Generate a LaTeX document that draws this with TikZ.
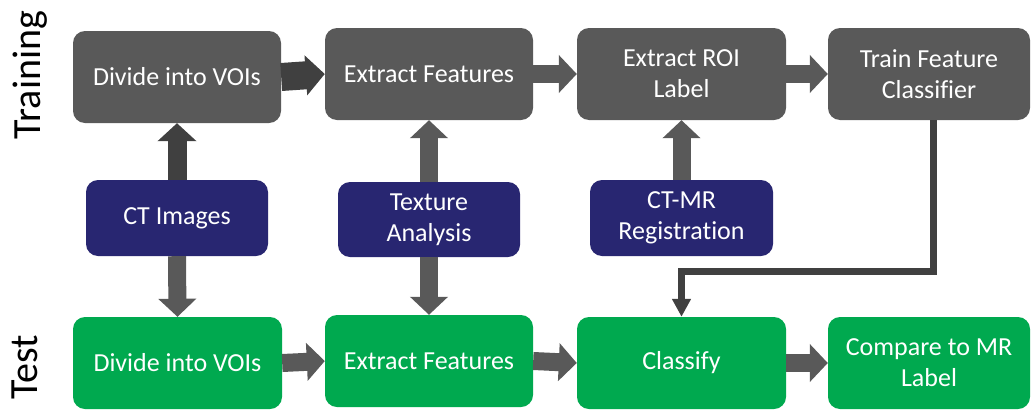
\documentclass[tikz,border=0pt]{standalone}
\usepackage{fontspec}
\setmainfont{Carlito}[Ligatures={NoCommon}]
\usetikzlibrary{arrows.meta,calc}
\definecolor{boxgray}{HTML}{595959}
\definecolor{darkgray}{HTML}{404040}
\definecolor{navy}{RGB}{40,38,113}
\definecolor{grn}{HTML}{00A94F}
\tikzset{
  box/.style={rectangle, rounded corners=12pt, text=white, align=center,
    inner sep=0pt, font=\fontsize{26}{31}\selectfont},
  graybox/.style={box, fill=boxgray},
  bluebox/.style={box, fill=navy},
  greenbox/.style={box, fill=grn},
  blockarrow/.style={draw=boxgray, line width=18pt,
    -{Triangle[length=18pt,width=37pt]}},
  darkarrow/.style={draw=darkgray, line width=28pt,
    -{Triangle[length=19pt,width=39pt]}},
  darkup/.style={draw=darkgray, line width=19pt,
    -{Triangle[length=18pt,width=38pt]}},
  elbow/.style={draw=darkgray, line width=6.5pt,
    -{Triangle[length=18pt,width=18pt]}},
  rowlabel/.style={rotate=90, font=\fontsize{40}{48}\selectfont, text=black, inner sep=0pt}
}
\begin{document}
\begin{tikzpicture}[x=1pt,y=-1pt]
\useasboundingbox (0,0) rectangle (1031,410);
\fill[white] (0,0) rectangle (1031,410);

\node[rowlabel] (ltrain) at (30,75) {Training};
\node[rowlabel] (ltest) at (25,367.5) {Test};

% training row
\node[graybox, minimum width=208pt, minimum height=92pt] (b1) at (177,77) {Divide into VOIs};
\node[graybox, minimum width=208pt, minimum height=92pt] (b2) at (429,74) {Extract Features};
\node[graybox, minimum width=209pt, minimum height=92pt] (b3) at (681.5,74) {Extract ROI\\Label};
\node[graybox, minimum width=202pt, minimum height=92pt] (b4) at (929,74) {Train Feature\\Classifier};

% inputs
\node[bluebox, minimum width=182pt, minimum height=76pt] (c1) at (177,218) {CT Images};
\node[bluebox, minimum width=182pt, minimum height=75pt] (c2) at (429,219.5) {Texture\\Analysis};
\node[bluebox, minimum width=183pt, minimum height=76pt] (c3) at (681.5,218) {CT-MR\\Registration};

% test row
\node[greenbox, minimum width=209pt, minimum height=92pt] (g1) at (177.5,363) {Divide into VOIs};
\node[greenbox, minimum width=208pt, minimum height=92pt] (g2) at (429,361) {Extract Features};
\node[greenbox, minimum width=209pt, minimum height=92pt] (g3) at (681.5,363) {Classify};
\node[greenbox, minimum width=202pt, minimum height=92pt] (g4) at (929,363) {Compare to MR\\Label};

% training arrows
\draw[darkarrow] (b1.east) -- (b2.west);
\draw[blockarrow] (b2.east) -- (b3.west);
\draw[blockarrow] (b3.east) -- (b4.west);
\draw[darkup] (c1.north) -- (c1.north |- b1.south);
\draw[blockarrow] (c2.north) -- (b2.south);
\draw[blockarrow] (c3.north) -- (b3.south);

% down arrows
\draw[blockarrow] (c1.south) -- (g1.north);
\draw[blockarrow] (c2.south) -- (g2.north);

% test arrows
\draw[blockarrow] (g1.east) -- (g2.west);
\draw[blockarrow] (g2.east) -- (g3.west);
\draw[blockarrow] (g3.east) -- (g4.west);

% elbow from classifier to classify
\coordinate (bend) at ($(b4.south)+(4.5,151.5)$);
\draw[elbow] ([xshift=4.5pt]b4.south) -- (bend) -| (g3.north);
\end{tikzpicture}
\end{document}
